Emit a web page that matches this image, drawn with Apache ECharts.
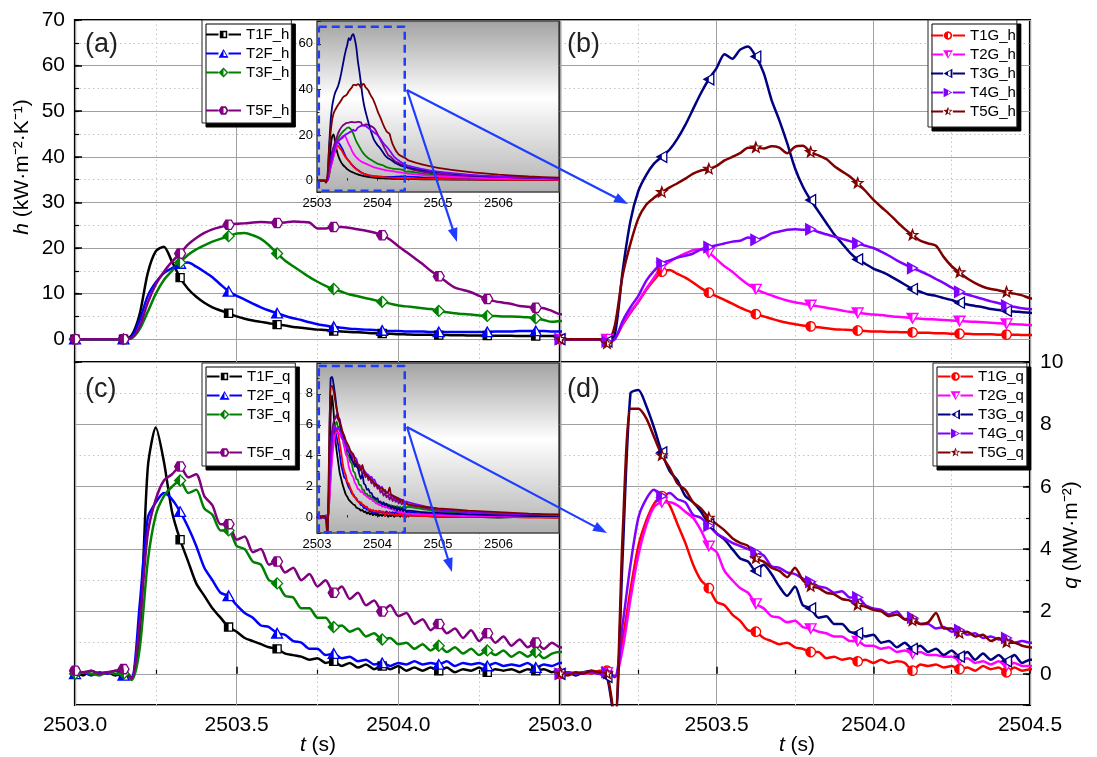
<!DOCTYPE html>
<html>
<head>
<meta charset="utf-8">
<script src="https://cdn.jsdelivr.net/npm/echarts@6.0.0/dist/echarts.min.js"></script>
<style>
  html, body { margin: 0; padding: 0; background: #fff; }
  #chart { width: 1097px; height: 757px; }
</style>
</head>
<body>
<div id="chart"></div>
<script>
// time base (s) - fine step over the zoomed window, coarse tail for the insets
const time = [
  2503, 2503.025, 2503.05, 2503.075, 2503.1, 2503.125, 2503.15, 2503.175, 2503.2, 2503.225,
  2503.25, 2503.275, 2503.3, 2503.325, 2503.35, 2503.375, 2503.4, 2503.425, 2503.45, 2503.475,
  2503.5, 2503.525, 2503.55, 2503.575, 2503.6, 2503.625, 2503.65, 2503.675, 2503.7, 2503.725,
  2503.75, 2503.775, 2503.8, 2503.825, 2503.85, 2503.875, 2503.9, 2503.925, 2503.95, 2503.975,
  2504, 2504.025, 2504.05, 2504.075, 2504.1, 2504.125, 2504.15, 2504.175, 2504.2, 2504.225,
  2504.25, 2504.275, 2504.3, 2504.325, 2504.35, 2504.375, 2504.4, 2504.425, 2504.45, 2504.475,
  2504.5, 2504.75, 2505, 2505.5, 2506, 2506.5, 2507
];

// h (kW m-2 K-1)
const T1F_h = [0,0,0,0,0,0,0,0.8,5.5,14.5, 19.3,20.3,17,13.5,11,9.3,8,7,6.3,5.7, 5,4.5,4.1,3.8,3.5,3.2,3.0,2.7,2.5,2.3,
  2.1,2.0,1.8,1.7,1.6,1.5,1.4,1.3,1.25,1.2, 1.1,1.05,1.0,1.0,0.95,0.9,0.9,0.85,0.85,0.8, 0.8,0.8,0.75,0.75,0.75,0.7,0.7,0.7,0.7,0.7, 0.7,0.6,0.5,0.4,0.3,0.3,0.2];
const T2F_h = [0,0,0,0,0,0,0,0.5,4.2,9.5, 12.5,14.5,15.6,16.6,16.8,15.9,14.8,13.6,12,10.5, 9.5,8.7,7.8,7,6.3,5.7,5.1,4.6,4.2,3.7,
  3.3,3.0,2.7,2.5,2.3,2.2,2.1,2,1.9,1.8, 1.8,1.7,1.7,1.7,1.6,1.6,1.6,1.6,1.6,1.6, 1.6,1.6,1.7,1.7,1.7,1.8,1.8,1.8,1.8,1.7, 1.7,1.4,1.2,0.9,0.7,0.5,0.4];
const T3F_h = [0,0,0,0,0,0,0,0.2,2.2,6, 10,13,15,16.8,18.5,19.7,20.6,21.4,22,22.6, 23.2,23.3,22.8,22,20.6,18.8,17.2,16,14.8,13.6,
  12.6,11.7,11,10.4,9.8,9.4,9,8.6,8.2,7.8, 7.4,7.2,7.0,6.8,6.6,6.2,5.9,5.7,5.5,5.4, 5.2,5.1,5.1,5.0,5.0,4.9,4.8,4.6,4.2,3.8, 4.0,3.0,2.3,1.5,1.0,0.8,0.6];
const T5F_h = [0,0,0,0,0,0,0,0.3,2.8,8, 12,14.8,17,18.8,20.8,22.2,23.3,24.1,24.6,25.1, 25.3,25.4,25.6,25.7,25.6,25.5,25.6,25.8,25.7,25.6,
  24.3,24.3,24.6,24.6,24.4,24.1,23.8,23.4,22.8,21.8, 20.4,19.1,17.8,16.5,15,13.8,12.5,11.3,10.8,10.3, 9.5,8.8,8.3,8,7.7,7.3,7.1,6.9,6.8,6.2, 5.5,3.8,2.8,1.8,1.3,1.0,0.8];
const T1G_h = [0,0,0,0,0,0,0,0.2,3.2,5.8, 8.2,10.8,13,14.8,15.2,14.3,13.5,12.4,11.2,10.2, 9.4,8.6,7.8,6.9,6.2,5.5,5,4.5,4,3.6,
  3.3,3,2.8,2.6,2.4,2.2,2.1,2,1.9,1.8, 1.7,1.7,1.6,1.6,1.5,1.5,1.4,1.4,1.3,1.3, 1.2,1.2,1.2,1.1,1.1,1.1,1.0,1.0,1.0,0.9, 0.9,0.8,0.7,0.5,0.4,0.3,0.3];
const T2G_h = [0,0,0,0,0,0,0,0.2,3.5,6, 8.3,11,13.5,15.8,17,18,18.8,19.5,19.7,19, 17.5,16,14.8,13.3,12,11,10.2,9.6,9,8.5,
  8.1,7.8,7.5,7.2,6.9,6.6,6.3,6,5.8,5.6, 5.4,5.3,5.1,4.9,4.8,4.6,4.5,4.4,4.3,4.2, 4.1,4.0,3.9,3.8,3.7,3.6,3.5,3.4,3.3,3.2, 3.1,2.4,1.9,1.3,0.9,0.7,0.5];
const T3G_h = [0,0,0,0,0,0,-0.5,1,15,26, 32.5,36,38.5,40,41.6,44,47,50.5,54,57, 59.5,62.5,61.5,63.5,64.2,62,58.4,52.5,48,43,
  37.5,33.5,30.5,28,25.5,23,21,19,17.5,16.5, 15.5,14.8,14,13,12,11,10.4,9.8,9.5,9, 8.6,8.0,7.6,7.3,7.0,6.6,6.4,6.2,6.1,5.9, 5.8,4.5,3.6,2.4,1.6,1.2,0.9];
const T4G_h = [0,0,0,0,0,0,-0.5,0,4,7, 9.5,12.8,15,16.6,17.3,17.9,18.3,18.8,19.7,20.2, 20.6,21,21.4,21.6,22.3,21.8,22.3,23.2,23.6,24,
  24.1,24,24.1,23.5,23,22.5,22,21.5,21,20.5, 20,19.2,18.3,17.3,16.4,15.6,14.9,14.1,13.2,12.3, 11.3,10.4,9.8,9.3,8.8,8.3,7.9,7.4,7.1,6.8, 6.6,5.0,3.9,2.6,1.8,1.3,1.0];
const T5G_h = [0,0,0,0,0,0,-1,3,14,21, 26.5,29.5,31,32.2,33.3,34.2,35.2,36.3,37,37.3, 38,39.2,40,40.8,42,42,41.8,42.3,42,40.8,
  42.2,42.4,41,40.3,39.5,38,36.8,35.7,34.2,32.5, 30.6,29,27.5,25.8,24.2,22.8,21.6,21,20.5,18, 16,14.6,13.3,12.3,11.5,11,10.7,10.3,10,9.6, 9.0,7.0,5.6,3.8,2.6,1.8,1.3];

// q (MW m-2)
const T1F_q = [0.05,-0.05,0.1,0,0.05,-0.05,0,-0.15,1.2,6.6, 7.9,6.8,5.2,4.3,3.6,2.9,2.5,2.1,1.8,1.5, 1.35,1.15,1.05,0.95,0.85,0.8,0.65,0.6,0.55,0.45,
  0.5,0.35,0.4,0.25,0.35,0.2,0.3,0.15,0.25,0.15, 0.25,0.1,0.2,0.1,0.2,0.1,0.2,0.05,0.15,0.1, 0.2,0.05,0.15,0.1,0.15,0.05,0.15,0.1,0.15,0.05, 0.15,0.1,0.05,0.05,0,0.05,0];
const T2F_q = [0,0.05,-0.05,0.05,0,0.1,-0.05,-0.1,2.2,5.0, 5.5,5.8,5.6,5.2,4.7,4.1,3.4,3.0,2.6,2.5, 2.2,1.95,1.8,1.55,1.5,1.3,1.25,1.05,1.0,0.8,
  0.8,0.6,0.65,0.5,0.55,0.4,0.45,0.3,0.35,0.25, 0.35,0.3,0.4,0.3,0.35,0.3,0.4,0.25,0.35,0.3, 0.35,0.25,0.35,0.25,0.3,0.25,0.35,0.2,0.3,0.25, 0.35,0.25,0.2,0.15,0.1,0.1,0.05];
const T3F_q = [0,0.05,0,-0.05,0.05,0,0,-0.2,0.8,3.6, 5.1,5.7,6.0,6.2,5.8,5.9,5.3,5.1,4.6,4.6, 4.1,4.0,3.6,3.5,3.0,2.9,2.5,2.45,2.1,2.1,
  1.8,1.8,1.5,1.55,1.35,1.45,1.2,1.3,1.1,1.15, 0.95,1.0,0.8,0.95,0.75,0.9,0.7,0.85,0.65,0.8, 0.6,0.75,0.6,0.75,0.55,0.7,0.55,0.7,0.5,0.65, 0.7,0.55,0.4,0.3,0.2,0.15,0.1];
const T5F_q = [0.1,0.05,0.1,0,0.05,0.1,0.15,-0.15,1.6,4.5, 5.6,6.2,6.4,6.65,6.3,6.4,5.7,5.4,4.8,4.8, 4.3,4.4,3.9,4.0,3.5,3.6,3.25,3.4,3.0,3.2,
  2.8,3.0,2.6,2.8,2.4,2.6,2.2,2.35,2.0,2.2, 1.85,1.95,1.6,1.75,1.4,1.6,1.3,1.45,1.15,1.4, 1.05,1.3,1.0,1.2,0.9,1.1,0.85,1.0,0.8,1.0, 0.85,0.65,0.5,0.35,0.25,0.2,0.15];
const T1G_q = [0,0.05,0,0.05,0,0.1,0.1,-0.1,1.1,2.7, 4.1,4.9,5.45,5.7,5.4,4.8,4.2,3.5,3.0,2.75, 2.3,2.2,1.9,1.7,1.4,1.35,1.15,1.05,0.95,1.0,
  0.85,0.8,0.7,0.7,0.5,0.55,0.45,0.5,0.4,0.45, 0.35,0.45,0.35,0.4,0.35,0.1,0.3,0.25,0.3,0.2, 0.25,0.15,0.2,0.1,0.25,0.15,0.2,0.05,0.2,0.1, 0.15,0.1,0.05,0.05,0.05,0,0];
const T2G_q = [0,0,0.05,0,0.05,0,0.05,-0.1,0.8,2.4, 3.8,4.75,5.35,5.5,5.5,5.4,5.2,5.0,4.6,4.1, 3.9,3.3,3.0,2.75,2.6,2.25,2.1,1.85,1.8,1.65,
  1.7,1.5,1.45,1.35,1.3,1.2,1.2,1.05,1.05,0.9, 0.9,0.8,0.85,0.7,0.75,0.65,0.7,0.6,0.6,0.55, 0.55,0.45,0.5,0.35,0.4,0.3,0.4,0.25,0.35,0.25, 0.25,0.2,0.15,0.1,0.1,0.05,0.05];
const T3G_q = [0,0.05,-0.05,0.05,0.1,0,-0.1,-1.6,3.8,9.0, 9.1,8.6,7.9,7.1,6.5,6.2,5.7,5.5,5.2,4.8, 4.5,4.3,4.0,3.7,3.6,3.3,3.5,3.2,2.8,2.5,
  2.8,2.2,2.1,1.8,1.85,1.6,1.6,1.35,1.3,1.2, 1.25,1.0,1.05,0.85,1.0,0.8,0.9,0.7,0.8,0.6, 0.75,0.55,0.7,0.45,0.65,0.45,0.6,0.4,0.6,0.35, 0.45,0.35,0.3,0.2,0.15,0.1,0.1];
const T4G_q = [0,0.05,0,0.05,0.05,0,0.05,-0.1,1.6,3.5, 5.0,5.6,5.9,5.7,5.8,5.6,5.5,5.1,5.0,4.75, 4.5,4.35,4.2,4.1,4.0,3.9,3.8,3.45,3.4,3.25,
  3.2,3.05,2.95,2.8,2.75,2.6,2.65,2.45,2.45,2.2, 2.1,2.05,1.9,2.0,1.75,1.8,1.6,1.6,1.45,1.5, 1.35,1.4,1.25,1.3,1.15,1.2,1.1,1.15,1.0,1.05, 1.0,0.75,0.55,0.35,0.25,0.2,0.15];
const T5G_q = [0,-0.05,0.05,0,0.1,0.05,0,-1.5,4.5,8.5, 8.5,8.2,7.6,7.0,6.6,6.1,5.9,5.5,5.3,5.0, 4.8,4.6,4.35,4.2,4.1,3.7,3.6,3.4,3.3,3.1,
  3.4,3.0,2.8,2.75,2.6,2.55,2.4,2.35,2.2,2.15, 2.05,2.0,1.85,1.9,1.75,1.7,1.6,1.65,1.95,1.45, 1.45,1.3,1.35,1.2,1.25,1.05,1.15,1.0,1.0,0.9, 0.85,0.7,0.6,0.45,0.35,0.25,0.2];

// points of each curve that carry a marker
const markerIdx = [0, 6, 13, 19, 25, 32, 38, 45, 51, 57];

// zoom window outlined in the insets: [t, value] corners
const zoomBoxH = [[2503.03, 67.5], [2504.45, -4.4]];
const zoomBoxQ = [[2503.03, 9.8], [2504.45, -0.95]];

const FONT = 'Liberation Sans, Arial, Helvetica, sans-serif';
const MAJOR = '#a0a0a0';
const MINOR = '#c2c2c2';
const BLUE = '#1f3dff';

const colors = {
  T1F: '#000000', T2F: '#0000ff', T3F: '#008000', T5F: '#800080',
  T1G: '#ff0000', T2G: '#ff00ff', T3G: '#000080', T4G: '#8000ff', T5G: '#800000'
};
const shapeOf = {
  T1F: 'square', T2F: 'triUp', T3F: 'diamond', T5F: 'hexagon',
  T1G: 'circle', T2G: 'triDown', T3G: 'triLeft', T4G: 'triRight', T5G: 'star'
};
const hOf = {T1F: T1F_h, T2F: T2F_h, T3F: T3F_h, T5F: T5F_h, T1G: T1G_h, T2G: T2G_h, T3G: T3G_h, T4G: T4G_h, T5G: T5G_h};
const qOf = {T1F: T1F_q, T2F: T2F_q, T3F: T3F_q, T5F: T5F_q, T1G: T1G_q, T2G: T2G_q, T3G: T3G_q, T4G: T4G_q, T5G: T5G_q};
const keysF = ['T1F', 'T2F', 'T3F', 'T5F'];
const keysG = ['T1G', 'T2G', 'T3G', 'T4G', 'T5G'];

// ---- marker shapes (10x10 box), half filled like Origin markers ----
function circlePts(r) {
  const p = [];
  for (let i = 0; i < 24; i++) {
    const a = Math.PI * 2 * i / 24;
    p.push([5 + r * Math.cos(a), 5 + r * Math.sin(a)]);
  }
  return p;
}
function orient(poly) {
  let a = 0;
  for (let i = 0; i < poly.length; i++) {
    const p = poly[i], q = poly[(i + 1) % poly.length];
    a += p[0] * q[1] - q[0] * p[1];
  }
  return a < 0 ? poly.slice().reverse() : poly;
}
const SH = {
  square: [[1.3, 1.3], [8.7, 1.3], [8.7, 8.7], [1.3, 8.7]],
  circle: circlePts(4.3),
  triUp: [[5, 0.5], [10, 9.3], [0, 9.3]],
  triDown: [[0, 0.7], [10, 0.7], [5, 9.5]],
  triLeft: [[0.5, 5], [9.5, 0], [9.5, 10]],
  triRight: [[0.5, 0], [9.5, 5], [0.5, 10]],
  diamond: [[5, 0], [10, 5], [5, 10], [0, 5]],
  hexagon: [[0, 5], [2.5, 0.8], [7.5, 0.8], [10, 5], [7.5, 9.2], [2.5, 9.2]],
  star: [[5, 0], [6.23, 3.3], [9.76, 3.45], [7, 5.65], [7.94, 9.05], [5, 7.1], [2.06, 9.05], [3, 5.65], [0.24, 3.45], [3.77, 3.3]]
};
Object.keys(SH).forEach(k => { SH[k] = orient(SH[k]); });

function clipLeft(poly) {
  const xc = 5, out = [];
  const cut = (p, q) => [xc, p[1] + (q[1] - p[1]) * (xc - p[0]) / (q[0] - p[0])];
  for (let i = 0; i < poly.length; i++) {
    const p = poly[i], q = poly[(i + 1) % poly.length];
    const pin = p[0] <= xc, qin = q[0] <= xc;
    if (pin && qin) out.push(q);
    else if (pin && !qin) out.push(cut(p, q));
    else if (!pin && qin) { out.push(cut(p, q)); out.push(q); }
  }
  return out;
}
function ptsPath(pts, ox, oy) {
  return 'M' + pts.map(p => (p[0] + ox).toFixed(2) + ' ' + (p[1] + oy).toFixed(2)).join(' L') + ' Z';
}
function shrink(pts, k) {
  return pts.map(p => [5 + (p[0] - 5) * k, 5 + (p[1] - 5) * k]);
}
const markerFull = s => 'path://M0 0 M10 10 ' + ptsPath(SH[s], 0, 0);
const markerHalf = s => 'path://M0 0 M10 10 ' + ptsPath(clipLeft(SH[s]), 0, 0);
function legendIcon(s) {
  const p = SH[s];
  return 'path://M0 0 M35 12 M0 4.9 L12.5 4.9 L12.5 7.1 L0 7.1 Z M22.5 4.9 L35 4.9 L35 7.1 L22.5 7.1 Z ' +
    ptsPath(p, 12.5, 1) + ' ' + ptsPath(shrink(p, 0.6).reverse(), 12.5, 1) + ' ' + ptsPath(clipLeft(p), 12.5, 1);
}

// ---- axes ----
function xMain(gi, labels, showMin, showMax) {
  return {
    type: 'value', gridIndex: gi, min: 2503, max: 2504.5, interval: 0.5,
    axisLine: {show: false},
    axisTick: {show: labels, inside: true, length: 7, lineStyle: {color: '#000', width: 1.5}},
    minorTick: {show: labels, splitNumber: 2, length: 4, lineStyle: {color: '#000', width: 1.2}},
    splitLine: {show: true, lineStyle: {color: MAJOR, width: 1}},
    minorSplitLine: {show: true, lineStyle: {color: MINOR, width: 1, type: [1.5, 3]}},
    axisLabel: {
      show: labels, showMinLabel: showMin, showMaxLabel: showMax, color: '#000',
      fontSize: 21, fontFamily: FONT, margin: 10, formatter: v => v.toFixed(1)
    }
  };
}
function yDotted(gi, min, max, step, pos, ticks) {
  return {
    type: 'value', gridIndex: gi, min: min, max: max, interval: step, position: pos, offset: 0,
    axisLine: {show: false}, axisLabel: {show: false},
    axisTick: {show: ticks, inside: true, length: 4, lineStyle: {color: '#000', width: 1.2}},
    splitLine: {show: true, lineStyle: {color: MINOR, width: 1, type: [1.5, 3]}}
  };
}
function yMain(gi, min, max, step, pos, labels) {
  return {
    type: 'value', gridIndex: gi, min: min, max: max, position: pos, offset: 0,
    splitNumber: Math.round((max - min) / step), minInterval: step, maxInterval: step,
    axisLine: {show: false},
    axisTick: {show: labels, inside: true, length: 7, lineStyle: {color: '#000', width: 1.5}},
    splitLine: {show: true, lineStyle: {color: MAJOR, width: 1}},
    axisLabel: {
      show: labels, color: '#000', fontSize: 21, fontFamily: FONT, margin: 10,
      formatter: v => (v < 0 ? '' : String(v))
    }
  };
}
function xInset(gi) {
  return {
    type: 'value', gridIndex: gi, min: 2503, max: 2507, interval: 1, z: 11,
    axisLine: {show: false},
    axisTick: {show: true, inside: true, length: 4, lineStyle: {color: '#222'}},
    minorTick: {show: true, splitNumber: 2, length: 2.5, lineStyle: {color: '#222'}},
    splitLine: {show: false},
    axisLabel: {color: '#000', fontSize: 13, fontFamily: FONT, margin: 5, showMaxLabel: false, formatter: v => String(v)}
  };
}
function yInset(gi, min, max, step, top) {
  return {
    type: 'value', gridIndex: gi, min: min, max: max, z: 11,
    splitNumber: Math.round((max - min) / step), minInterval: step, maxInterval: step,
    axisLine: {show: false},
    axisTick: {show: true, inside: true, length: 4, lineStyle: {color: '#222'}},
    minorTick: {show: true, splitNumber: 2, length: 2.5, lineStyle: {color: '#222'}},
    splitLine: {show: false},
    axisLabel: {
      color: '#000', fontSize: 13, fontFamily: FONT, margin: 4,
      formatter: v => (v < 0 || v > top ? '' : String(v))
    }
  };
}

const insetBg = {
  type: 'linear', x: 0, y: 0, x2: 0, y2: 1,
  colorStops: [{offset: 0, color: '#a2a2a2'}, {offset: 0.45, color: '#ffffff'}, {offset: 1, color: '#b0b0b0'}]
};
const frame = {show: true, borderColor: '#000', borderWidth: 2.2, backgroundColor: 'transparent', outerBoundsMode: 'none'};

// ---- series ----
const series = [];
const pairs = arr => time.map((t, i) => [t, arr[i]]);

function addMain(key, suffix, arr, gi, yi) {
  const c = colors[key];
  series.push({
    type: 'line', name: key + suffix, xAxisIndex: gi, yAxisIndex: yi, data: pairs(arr),
    symbol: 'none', smooth: 0.25, lineStyle: {color: c, width: 2.5}, itemStyle: {color: c}, z: 2, silent: true
  });
  const pts = markerIdx.map(i => [time[i], arr[i]]);
  series.push({
    type: 'scatter', name: key + suffix + '-m', xAxisIndex: gi, yAxisIndex: yi, data: pts,
    symbol: markerFull(shapeOf[key]), symbolSize: 11,
    itemStyle: {color: '#fff', borderColor: c, borderWidth: 1.3, opacity: 1}, z: 3, silent: true
  });
  series.push({
    type: 'scatter', name: key + suffix + '-h', xAxisIndex: gi, yAxisIndex: yi, data: pts,
    symbol: markerHalf(shapeOf[key]), symbolSize: 11,
    itemStyle: {color: c, opacity: 1}, z: 4, silent: true
  });
}
function addInset(key, suffix, arr, gi, yi) {
  const c = colors[key];
  series.push({
    type: 'line', name: 'inset-' + key + suffix, xAxisIndex: gi, yAxisIndex: yi, data: pairs(arr),
    symbol: 'none', smooth: 0.2, lineStyle: {color: c, width: 1.8}, itemStyle: {color: c}, z: 12, silent: true
  });
}
function addBox(box, gi, yi) {
  const [a, b] = box;
  series.push({
    type: 'line', name: 'zoom-box', xAxisIndex: gi, yAxisIndex: yi,
    data: [[a[0], a[1]], [b[0], a[1]], [b[0], b[1]], [a[0], b[1]], [a[0], a[1]]],
    symbol: 'none', lineStyle: {color: BLUE, width: 2.5, type: [8, 5]}, z: 13, silent: true, clip: false
  });
}

keysF.forEach(k => addMain(k, '_h', hOf[k], 0, 4));
keysG.forEach(k => addMain(k, '_h', hOf[k], 1, 5));
keysF.forEach(k => addMain(k, '_q', qOf[k], 2, 6));
keysG.forEach(k => addMain(k, '_q', qOf[k], 3, 7));
keysF.concat(keysG).forEach(k => addInset(k, '_h', hOf[k], 4, 8));
keysF.concat(keysG).forEach(k => addInset(k, '_q', qOf[k], 5, 9));
addBox(zoomBoxH, 4, 8);
addBox(zoomBoxQ, 5, 9);
series.push({type: 'line', name: ' ', xAxisIndex: 0, yAxisIndex: 4, data: [], symbol: 'none'});

function mkLegend(keys, suffix, left, top, padding, itemWidth) {
  return {
    orient: 'vertical', left: left, top: top, padding: padding, align: 'left',
    itemGap: 4, itemWidth: itemWidth, itemHeight: 12, selectedMode: false,
    backgroundColor: '#fff', borderColor: '#222', borderWidth: 1,
    shadowColor: '#000', shadowBlur: 0.01, shadowOffsetX: 4, shadowOffsetY: 4,
    itemStyle: {borderWidth: 0},
    textStyle: {fontSize: 15, fontFamily: FONT, color: '#000'},
    data: keys.map(k => k ? {name: k + suffix, icon: legendIcon(shapeOf[k])} : {name: ' ', icon: 'none'})
  };
}

// ---- annotations ----
function arrow(x1, y1, x2, y2) {
  const dx = x2 - x1, dy = y2 - y1, L = Math.hypot(dx, dy), ux = dx / L, uy = dy / L;
  const hl = 14, hw = 5;
  const bx = x2 - ux * hl, by = y2 - uy * hl;
  return [
    {type: 'line', z: 30, shape: {x1: x1, y1: y1, x2: bx + ux * 2, y2: by + uy * 2}, style: {stroke: BLUE, lineWidth: 2.2}},
    {type: 'polygon', z: 30, shape: {points: [[x2, y2], [bx - uy * hw, by + ux * hw], [bx + uy * hw, by - ux * hw]]}, style: {fill: BLUE}}
  ];
}
function label(text, x, y, size) {
  return {type: 'text', x: x, y: y, z: 30, style: {text: text, fontSize: size, fontFamily: FONT, fill: '#222', align: 'left', verticalAlign: 'middle'}};
}
function title(text, x, y, rot) {
  return {
    type: 'text', x: x, y: y, rotation: rot, z: 30,
    style: {
      text: text, fontSize: 21, fontFamily: FONT, fill: '#000', align: 'center', verticalAlign: 'middle',
      rich: {i: {fontStyle: 'italic', fontSize: 21, fontFamily: FONT, fill: '#000'}}
    }
  };
}

const option = {
  animation: false,
  backgroundColor: '#fff',
  textStyle: {fontFamily: FONT},
  grid: [
    Object.assign({left: 75, top: 20, width: 485, height: 342}, frame),
    Object.assign({left: 560, top: 20, width: 470, height: 342}, frame),
    Object.assign({left: 75, top: 362, width: 485, height: 343}, frame),
    Object.assign({left: 560, top: 362, width: 470, height: 343}, frame),
    {left: 317, top: 21, width: 242, height: 171, show: true, z: 10, borderColor: '#444', borderWidth: 1.5, backgroundColor: insetBg, outerBoundsMode: 'none'},
    {left: 317, top: 363, width: 242, height: 170, show: true, z: 10, borderColor: '#444', borderWidth: 1.5, backgroundColor: insetBg, outerBoundsMode: 'none'}
  ],
  xAxis: [
    xMain(0, false, true, true),
    xMain(1, false, true, true),
    xMain(2, true, true, false),
    xMain(3, true, true, true),
    xInset(4),
    xInset(5)
  ],
  yAxis: [
    yDotted(0, -5, 70, 5, 'left', true),
    yDotted(1, -5, 70, 5, 'left', false),
    yDotted(2, -1, 10, 1, 'left', false),
    yDotted(3, -1, 10, 1, 'right', true),
    yMain(0, -5, 70, 10, 'left', true),
    yMain(1, -5, 70, 10, 'left', false),
    yMain(2, -1, 10, 2, 'left', false),
    yMain(3, -1, 10, 2, 'right', true),
    yInset(4, -5, 70, 20, 60),
    yInset(5, -1, 10, 2, 8)
  ],
  legend: [
    mkLegend(['T1F', 'T2F', 'T3F', null, 'T5F'], '_h', 202, 20, [7, 2, 5, 4], 35),
    mkLegend(['T1G', 'T2G', 'T3G', 'T4G', 'T5G'], '_h', 928, 20, [8, 1, 8, 3], 34),
    mkLegend(['T1F', 'T2F', 'T3F', null, 'T5F'], '_q', 202, 363, [6, 5, 6, 5], 35),
    mkLegend(['T1G', 'T2G', 'T3G', 'T4G', 'T5G'], '_q', 933, 363, [6, 3, 6, 5], 35)
  ],
  graphic: [].concat(
    arrow(407, 90, 628, 204),
    arrow(407, 90, 457, 242),
    arrow(407, 427, 607, 533),
    arrow(407, 427, 452, 572),
    [
      label('(a)', 85, 45, 27),
      label('(b)', 567, 45, 27),
      label('(c)', 85, 390, 27),
      label('(d)', 567, 390, 27),
      title('{i|h} (kW·m⁻²·K⁻¹)', 22, 167, Math.PI / 2),
      title('{i|q} (MW·m⁻²)', 1071, 535, Math.PI / 2),
      title('{i|t} (s)', 318, 745, 0),
      title('{i|t} (s)', 797, 745, 0)
    ]
  ),
  series: series
};

const chart = echarts.init(document.getElementById('chart'));
chart.setOption(option);
</script>
</body>
</html>
